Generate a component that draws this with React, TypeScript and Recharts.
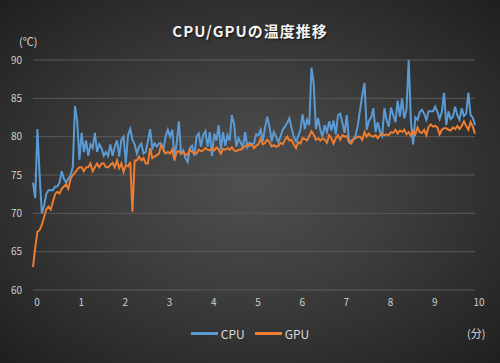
import { LineChart, Line, XAxis, YAxis, CartesianGrid, Legend } from 'recharts';

// sampled every 3 seconds over 10 minutes
const SAMPLE_STEP_MIN = 0.05;

const CPU_TEMPS = [
  74, 72, 81, 75, 70, 71, 72.5, 73, 73, 73, 73.5, 73.5, 74, 75.5, 74.5, 74, 74.5, 75, 76, 84, 82,
  77, 80.5, 78, 79.5, 77.5, 79, 78.5, 80.5, 78, 79, 78.5, 77.5,
  78, 77.5, 79, 77.5, 78.7, 79.5, 77.4, 79.6, 80, 76.5, 80.2, 81, 79.6, 79, 77.8, 78.7, 79.1, 77.8,
  78, 79.4, 81, 78.5, 79.1, 78.7, 79.1, 79.1, 78.3, 80, 80.9, 80, 80.9, 77.4, 79.1,
  82, 77.8, 78.2, 77.2, 76.7, 78.5, 78.8, 77.5, 80, 80.4, 78.7, 80.2, 80.7, 78.7, 80.6, 77.5, 80.4,
  79.5, 81.5, 78.3, 80.6, 78.8, 80.2, 79.5, 82.8, 81.6, 78.7, 79.8, 79.2, 78.6, 80.6, 78.6, 79.2, 79,
  79.1, 80.3, 80.2, 80.9, 79.4, 81.2, 82.6, 81.3, 79.4, 80.6, 80, 79.3, 80, 80.9, 81.3, 81.8, 82.4,
  81.1, 80, 79.4, 80, 80.9, 82.9, 81, 82.2, 81.5, 89, 87, 81, 82.4, 80.9, 80,
  81.5, 80.6, 82, 80.8, 82.1, 80.3, 82.8, 83, 81.8, 80.5, 82.8, 79.3, 79.5, 79.6, 80.2, 81.5, 83.5,
  85.4, 87, 80.9, 82.1, 82.5, 83.7, 80.6, 81.9, 80.6, 80.1, 83.7, 82.2, 81.3, 83.8, 82.8, 81.9,
  84.7, 82.6, 85, 82.4, 83.5, 90, 82, 79, 82.5, 82.2, 83.2, 83.5, 83, 82.2, 83.3, 83.3, 83.3, 83.9,
  83.2, 82.3, 83.2, 85.7, 81.5, 83.3, 82.3, 82.6, 83.9, 82.8, 82.2, 83.7, 82.7, 83, 85.7, 82.8, 82.5, 81.5,
];

const GPU_TEMPS = [
  63, 65.5, 67.6, 67.8, 68.5, 69.5, 70.5, 70.9, 70.5, 71.5, 72.5, 72.8, 72.6, 73.2, 73.5, 73.8, 73.2,
  74.5, 75, 75.3, 75.7, 76, 76, 75.5, 76, 76, 76.5, 75.5, 76, 76.5, 76, 76.5, 76.5,
  76, 76, 76.3, 76.6, 76, 76.9, 75.9, 76.5, 75.4, 76.3, 76.1, 76.7, 70.2, 76.9, 76.9, 77.4, 76.9, 77.2,
  76.5, 76.5, 78.5, 77.2, 77.4, 77.6, 77.8, 78.9, 78.3, 77.8, 78, 77.8, 78.3, 76.9, 78,
  78.1, 77.8, 78, 77.6, 77.7, 78.3, 78, 77.9, 77.8, 78.3, 78.1, 78.2, 78.5, 78.3, 78.2, 78.5, 78.2,
  78.6, 78.3, 77.8, 78.4, 78.3, 78.5, 78.3, 78.6, 78.2, 78.1, 78.3, 78.3, 78.6, 78.7, 79, 78.8, 79,
  78.5, 78.8, 79, 79.7, 79, 79.2, 79.6, 79.3, 78.7, 78.9, 78.7, 78.8, 79.2, 79, 79.6, 80, 79.5,
  79.6, 79, 78.5, 79.3, 79.1, 79.8, 79.7, 79.5, 80.1, 80.7, 80.3, 79.6, 79.8, 79.5, 79.8,
  79.6, 79.2, 80.2, 79.8, 79.1, 79.8, 80.2, 79.6, 80.2, 80, 80.1, 79.3, 79.1, 79.7, 79.8, 80, 80,
  79.6, 80.6, 80, 80.4, 80.1, 80, 80.2, 79.8, 80.2, 80.4, 80.2, 80.3, 80.2, 80.6, 80.5, 80.9,
  80.4, 80.8, 80.6, 80.9, 80.3, 80.6, 80.1, 80.8, 80.3, 81.2, 80.6, 80.5, 80.9, 80.2, 81.3, 81.6, 81.3,
  81.4, 81.2, 80.3, 80.9, 81.1, 81.1, 80.9, 80.8, 81.2, 81, 81.4, 81, 81.4, 82, 81.4, 80.9, 81.9, 81.3, 80.4,
];

const X_TICKS = [0, 1, 2, 3, 4, 5, 6, 7, 8, 9, 10];
const Y_TICKS = [60, 65, 70, 75, 80, 85, 90];

const CPU_COLOR = '#5b9bd5';
const GPU_COLOR = '#ed7d31';
const FONT = "'Noto Sans CJK JP', 'Noto Sans', sans-serif";
const TICK = { fill: '#cfcfcf', fontSize: 10, fontFamily: FONT };

const data = CPU_TEMPS.map((cpu, i) => ({
  min: Math.round(i * SAMPLE_STEP_MIN * 100) / 100,
  CPU: cpu,
  GPU: GPU_TEMPS[i],
}));

function LegendContent({ payload }: any) {
  return (
    <div style={{ display: 'flex', justifyContent: 'center', gap: 10, fontFamily: FONT, fontSize: 12, color: '#d9d9d9' }}>
      {(payload || []).map((p: any) => (
        <span key={p.value} style={{ display: 'flex', alignItems: 'center' }}>
          <span style={{ display: 'inline-block', width: 27, height: 2.5, background: p.color, marginRight: 3 }} />
          {p.value}
        </span>
      ))}
    </div>
  );
}

export default function App() {
  return (
    <div
      style={{
        position: 'absolute',
        left: 0,
        top: 0,
        width: 500,
        height: 363,
        background: 'radial-gradient(ellipse at 50% 50%, #505050 0%, #3c3c3c 45%, #1f1f1f 100%)',
        fontFamily: FONT,
      }}
    >
      <div
        style={{
          position: 'absolute',
          top: 20,
          width: 500,
          textAlign: 'center',
          color: '#f2f2f2',
          fontWeight: 700,
          fontSize: 15,
          letterSpacing: 1,
          textShadow: '1px 1px 2px rgba(0,0,0,0.7)',
        }}
      >
        CPU/GPUの温度推移
      </div>
      <div style={{ position: 'absolute', left: 19, top: 33, color: '#d9d9d9', fontSize: 11 }}>(℃)</div>
      <div style={{ position: 'absolute', left: 467, top: 325, color: '#d9d9d9', fontSize: 11 }}>(分)</div>
      <LineChart width={500} height={363} data={data} margin={{ top: 60, right: 25, bottom: 37, left: 0 }}>
        <CartesianGrid vertical={false} stroke="#5a5a5a" />
        <XAxis
          dataKey="min"
          type="number"
          domain={[0, 10]}
          ticks={X_TICKS}
          tick={{ ...TICK, dx: 4 }}
          axisLine={false}
          tickLine={false}
          tickMargin={3}
          height={20}
        />
        <YAxis
          domain={[60, 90]}
          ticks={Y_TICKS}
          tick={TICK}
          axisLine={false}
          tickLine={false}
          tickMargin={5}
          width={33}
        />
        <Legend
          content={LegendContent}
          wrapperStyle={{ position: 'absolute', top: 325, left: 0, width: 500, height: 16 }}
        />
        <Line type="linear" dataKey="CPU" stroke={CPU_COLOR} strokeWidth={2} dot={false} isAnimationActive={false} />
        <Line type="linear" dataKey="GPU" stroke={GPU_COLOR} strokeWidth={2} dot={false} isAnimationActive={false} />
      </LineChart>
    </div>
  );
}
